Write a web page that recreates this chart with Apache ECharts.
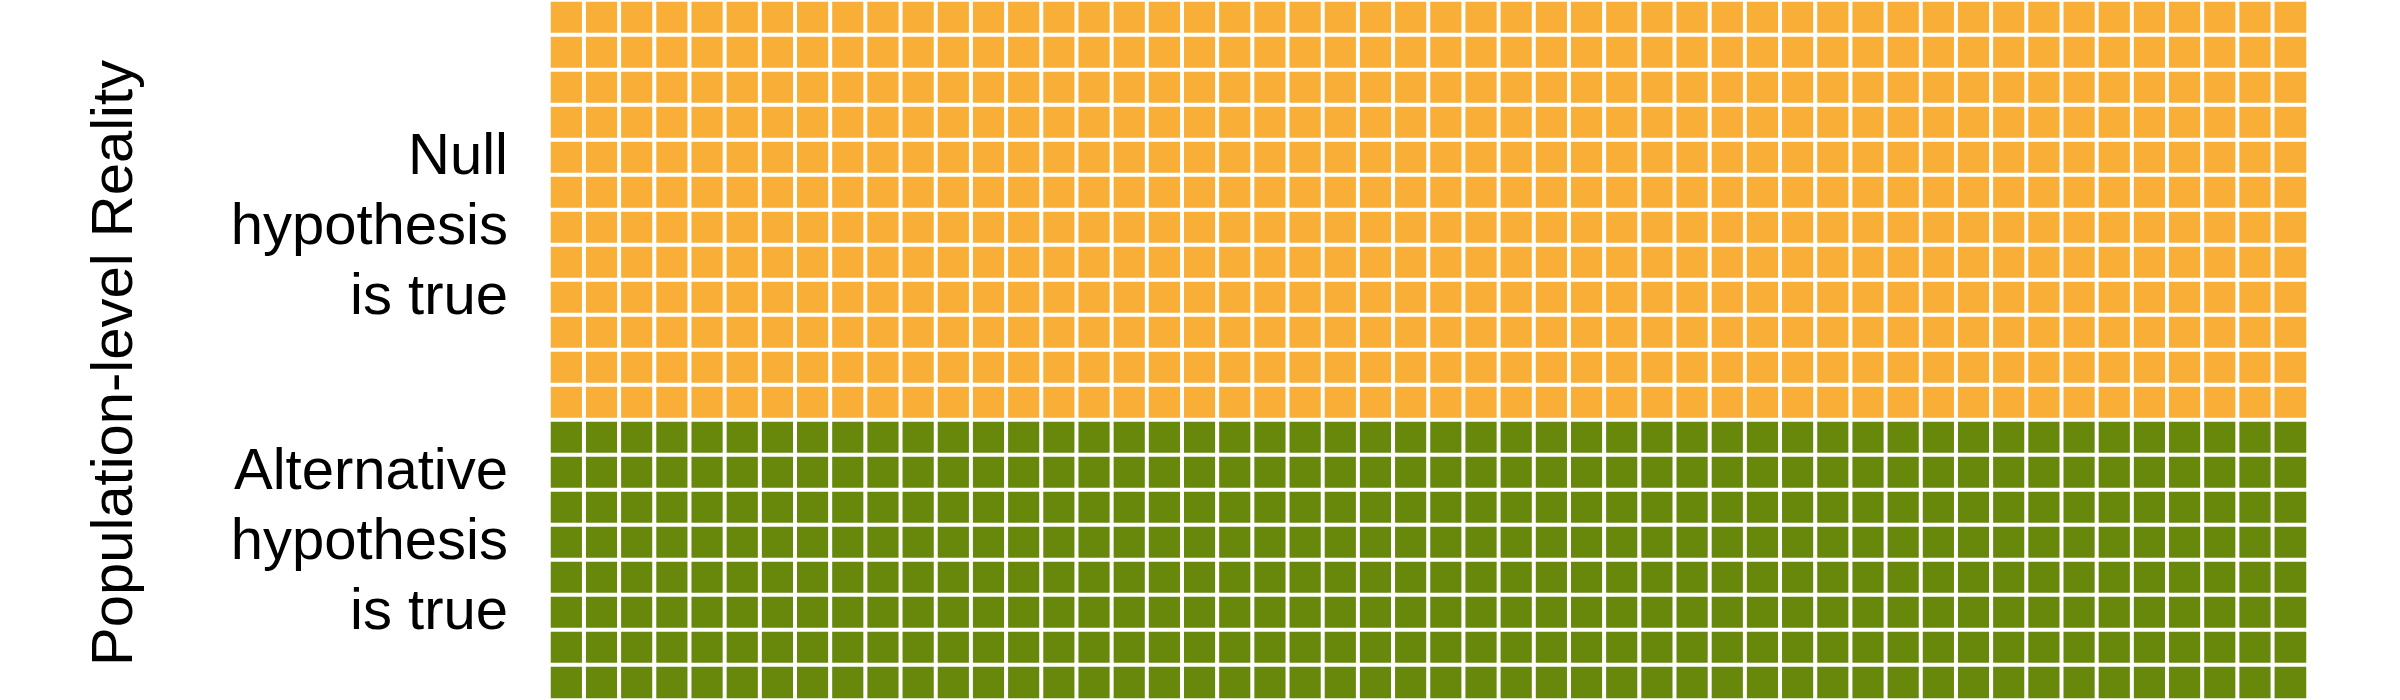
<!DOCTYPE html>
<html>
<head>
<meta charset="utf-8">
<script src="https://cdn.jsdelivr.net/npm/echarts@6/dist/echarts.min.js"></script>
<style>
  html, body { margin: 0; padding: 0; background: #ffffff; }
  #chart { width: 2400px; height: 700px; }
</style>
</head>
<body>
<div id="chart"></div>
<script>
// ---- data ----
const groupNames = ['Null hypothesis is true', 'Alternative hypothesis is true'];
const groupLabels = ['Null\nhypothesis\nis true', 'Alternative\nhypothesis\nis true'];
const groupCounts = [600, 400];
const groupColors = ['#F9AF37', '#67880A'];
const columnCount = 50;
const axisTitle = 'Population-level Reality';

// ---- build cells ----
const totalCells = groupCounts.reduce((a, b) => a + b, 0);
const rowCount = Math.ceil(totalCells / columnCount);
const xCats = Array.from({ length: columnCount }, (_, i) => String(i));
const yCats = Array.from({ length: rowCount }, (_, i) => String(i));

let idx = 0;
const series = groupCounts.map((count, g) => {
  const data = [];
  for (let k = 0; k < count; k++, idx++) {
    data.push([idx % columnCount, Math.floor(idx / columnCount), 1]);
  }
  return {
    name: groupNames[g],
    type: 'heatmap',
    data: data,
    itemStyle: { color: groupColors[g], borderColor: '#ffffff', borderWidth: 4 },
    emphasis: { disabled: true },
    silent: true
  };
});

// label row: the row on which each group's label block is centred
const labelRowOf = [6, 15];
const rowLabel = {};
labelRowOf.forEach((r, g) => { rowLabel[r] = groupLabels[g]; });

const chart = echarts.init(document.getElementById('chart'));
chart.setOption({
  animation: false,
  backgroundColor: '#ffffff',
  grid: { left: 549, right: 92, top: 0, bottom: 0, containLabel: false },
  xAxis: {
    type: 'category', data: xCats, show: false
  },
  yAxis: {
    type: 'category', data: yCats, inverse: true,
    axisLine: { show: false }, axisTick: { show: false }, splitLine: { show: false },
    axisLabel: {
      interval: 0,
      margin: 41,
      align: 'right',
      fontFamily: 'Liberation Sans, Arial, sans-serif',
      fontSize: 58,
      lineHeight: 70,
      color: '#000000',
      formatter: (v, i) => rowLabel[i] || ''
    }
  },
  graphic: [{
    type: 'text',
    x: 116, y: 363,
    rotation: Math.PI / 2,
    style: {
      text: axisTitle,
      font: '58px "Liberation Sans", Arial, sans-serif',
      fill: '#000000',
      textAlign: 'center',
      textVerticalAlign: 'middle'
    }
  }],
  series: series
});
</script>
</body>
</html>
